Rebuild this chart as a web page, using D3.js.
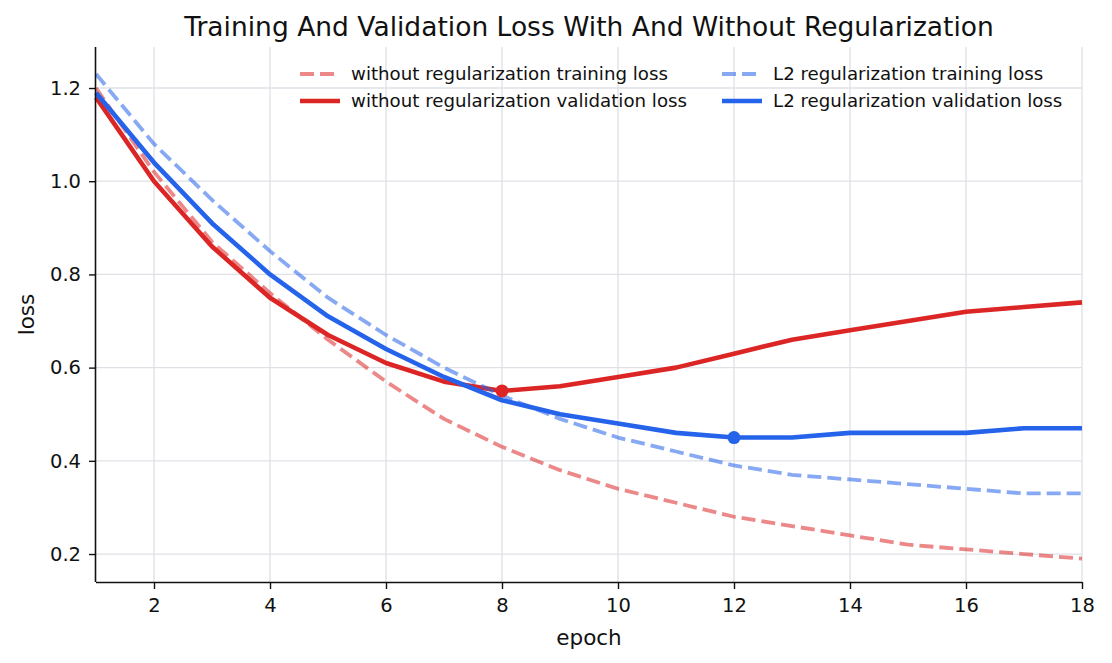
<!DOCTYPE html>
<html><head><meta charset="utf-8">
<script src="https://cdn.jsdelivr.net/npm/d3@7"></script>
<style>body{margin:0;background:#fff}svg{font-family:"DejaVu Sans",sans-serif}</style>
</head><body><svg id="c" width="1112" height="663"></svg>
<script>
const epochs = [1,2,3,4,5,6,7,8,9,10,11,12,13,14,15,16,17,18];
const noRegTrain = [1.20,1.02,0.87,0.76,0.66,0.57,0.49,0.43,0.38,0.34,0.31,0.28,0.26,0.24,0.22,0.21,0.20,0.19];
const noRegVal   = [1.18,1.00,0.86,0.75,0.67,0.61,0.57,0.55,0.56,0.58,0.60,0.63,0.66,0.68,0.70,0.72,0.73,0.74];
const l2Train    = [1.23,1.08,0.96,0.85,0.75,0.67,0.60,0.54,0.49,0.45,0.42,0.39,0.37,0.36,0.35,0.34,0.33,0.33];
const l2Val      = [1.19,1.04,0.91,0.80,0.71,0.64,0.58,0.53,0.50,0.48,0.46,0.45,0.45,0.46,0.46,0.46,0.47,0.47];
const xTicks = [2,4,6,8,10,12,14,16,18];
const yTicks = [0.2,0.4,0.6,0.8,1.0,1.2];
const bestPoints = [{epoch:8, loss:0.55, series:"noReg"},{epoch:12, loss:0.45, series:"l2"}];
const seriesList = [
  {name:"without regularization training loss", values:noRegTrain, color:"#dc2626", dashed:true, col:0, row:0},
  {name:"without regularization validation loss", values:noRegVal, color:"#dc2626", dashed:false, col:0, row:1},
  {name:"L2 regularization training loss", values:l2Train, color:"#2563eb", dashed:true, col:1, row:0},
  {name:"L2 regularization validation loss", values:l2Val, color:"#2563eb", dashed:false, col:1, row:1}
];

const svg = d3.select("#c");
const L=96, R=1082, T=47, B=582;
const x = d3.scaleLinear().domain([1,18]).range([L,R]);
const y = d3.scaleLinear().domain([0.14,1.288]).range([B,T]);
const DASH = "14,6";

// grid
svg.append("g").selectAll("line").data(xTicks).join("line")
  .attr("x1",d=>x(d)).attr("x2",d=>x(d)).attr("y1",T).attr("y2",B)
  .attr("stroke","#dde1e6").attr("stroke-width",1.3);
svg.append("g").selectAll("line").data(yTicks).join("line")
  .attr("y1",d=>y(d)).attr("y2",d=>y(d)).attr("x1",L).attr("x2",R)
  .attr("stroke","#dde1e6").attr("stroke-width",1.3);

// lines
const line = d3.line().x((d,i)=>x(epochs[i])).y(d=>y(d));
const plot = svg.append("g");
seriesList.forEach(s=>{
  plot.append("path").attr("d",line(s.values)).attr("fill","none")
    .attr("stroke",s.color)
    .attr("stroke-opacity",s.dashed?0.55:1)
    .attr("stroke-width",s.dashed?3.8:4.6)
    .attr("stroke-dasharray",s.dashed?DASH:null)
    .attr("stroke-linejoin","round");
});
plot.selectAll("circle").data(bestPoints).join("circle")
  .attr("cx",d=>x(d.epoch)).attr("cy",d=>y(d.loss)).attr("r",6.5)
  .attr("fill",d=>d.series==="noReg"?"#dc2626":"#2563eb");

// axes
const xAxis = d3.axisBottom(x).tickValues(xTicks).tickFormat(d3.format("d")).tickSize(7).tickPadding(9);
const yAxis = d3.axisLeft(y).tickValues(yTicks).tickFormat(d3.format(".1f")).tickSize(7).tickPadding(8);
const gx = svg.append("g").attr("transform",`translate(0,${B})`).call(xAxis);
const gy = svg.append("g").attr("transform",`translate(${L},0)`).call(yAxis);
[gx,gy].forEach(g=>{
  g.select(".domain").attr("stroke","#111").attr("stroke-width",1.6);
  g.selectAll(".tick line").attr("stroke","#111").attr("stroke-width",1.4);
  g.selectAll(".tick text").attr("fill","#111").style("font-size","19.5px").style("font-family","DejaVu Sans");
});
gx.select(".domain").attr("d",`M${L},0.5H${R}`);
gy.select(".domain").attr("d",`M-0.5,${T}V${B}`);

// labels
svg.append("text").attr("x",(L+R)/2).attr("y",645).attr("text-anchor","middle")
  .style("font-size","21.5px").attr("fill","#111").text("epoch");
svg.append("text").attr("transform",`translate(34,${(T+B)/2}) rotate(-90)`).attr("text-anchor","middle")
  .style("font-size","21.5px").attr("fill","#111").text("loss");
svg.append("text").attr("x",(L+R)/2).attr("y",36).attr("text-anchor","middle")
  .style("font-size","26.5px").attr("fill","#111").text("Training And Validation Loss With And Without Regularization");

// legend
const colX=[300,722], rowY=[74,101];
const lg = svg.append("g");
seriesList.forEach(s=>{
  const lx=colX[s.col], ly=rowY[s.row];
  lg.append("line").attr("x1",lx).attr("x2",lx+40).attr("y1",ly).attr("y2",ly)
    .attr("stroke",s.color).attr("stroke-opacity",s.dashed?0.55:1)
    .attr("stroke-width",s.dashed?3.8:4.6).attr("stroke-dasharray",s.dashed?DASH:null);
  lg.append("text").attr("x",lx+51).attr("y",ly+6).style("font-size","18.2px").attr("fill","#111").text(s.name);
});
</script></body></html>
